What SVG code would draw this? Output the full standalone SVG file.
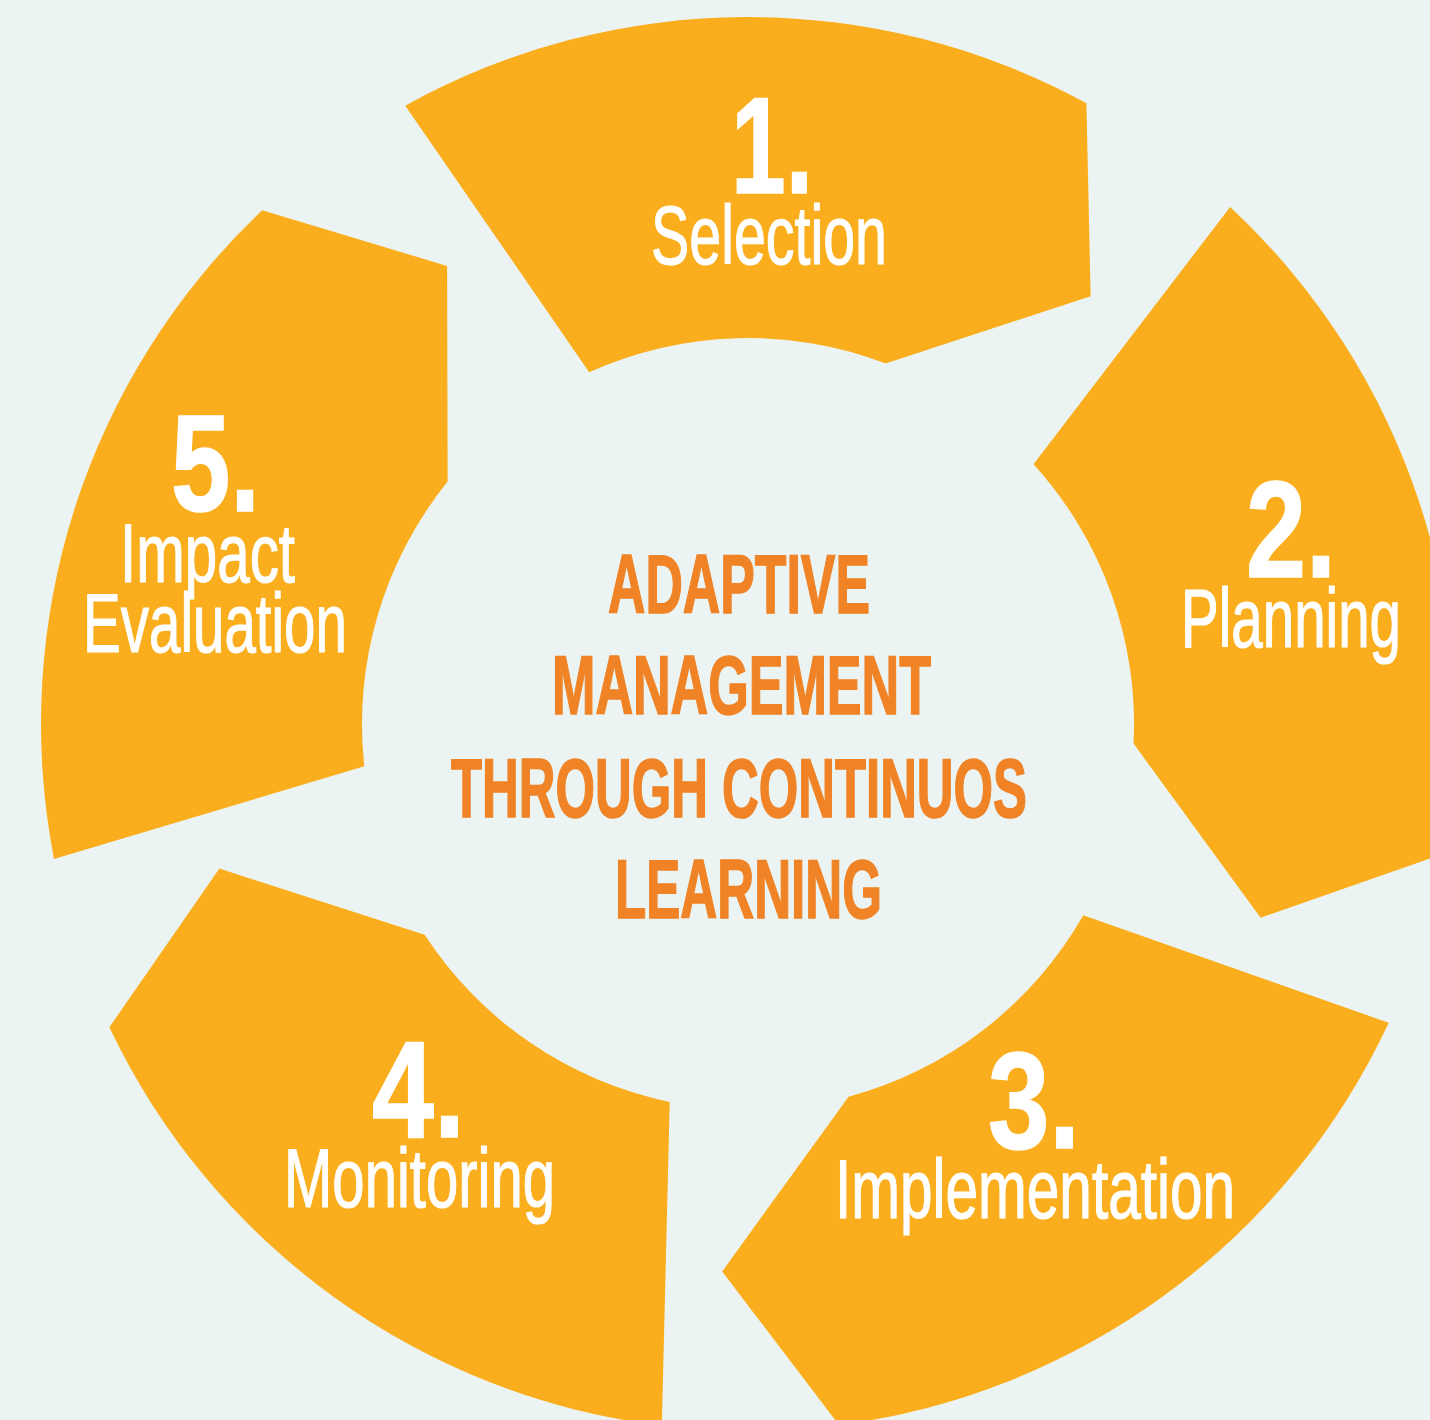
<svg xmlns="http://www.w3.org/2000/svg" width="1430" height="1420" viewBox="0 0 1430 1420">
<style>
.seg{fill:#FAAE1D}
.num{font-family:"Liberation Sans",Arial,sans-serif;font-weight:bold;font-size:138px;fill:#FFFFFF;stroke:#FFFFFF;stroke-width:1.5px}
.lbl{font-family:"Liberation Sans",Arial,sans-serif;font-size:83px;fill:#FFFFFF;stroke:#FFFFFF;stroke-width:1.2px}
.ctr{font-family:"Liberation Sans",Arial,sans-serif;font-weight:bold;font-size:83px;fill:#F08326;stroke:#F08326;stroke-width:1.6px}
</style>
<rect width="1430" height="1420" fill="#EBF4F2"/>
<g id="step1">
<path class="seg" d="M405.24,105.64 A707,707 0 0 1 1086.43,103.27 L1090.63,296.32 L885.70,363.40 A386,386 0 0 0 589.16,372.20 Z"/>
<text class="num" x="731" y="193" textLength="82" lengthAdjust="spacingAndGlyphs">1.</text>
<text class="lbl" x="651" y="264" textLength="236" lengthAdjust="spacingAndGlyphs">Selection</text>
</g>
<g id="step2">
<path class="seg" d="M1230.17,206.94 A707,707 0 0 1 1442.94,854.05 L1260.62,917.70 L1133.51,743.53 A386,386 0 0 0 1033.50,464.22 Z"/>
<text class="num" x="1246" y="577" textLength="90" lengthAdjust="spacingAndGlyphs">2.</text>
<text class="lbl" x="1181" y="647" textLength="220" lengthAdjust="spacingAndGlyphs">Planning</text>
</g>
<g id="step3">
<path class="seg" d="M1388.76,1022.79 A707,707 0 0 1 839.06,1425.11 L722.19,1271.39 L848.55,1096.67 A386,386 0 0 0 1083.29,915.25 Z"/>
<text class="num" x="988" y="1148" textLength="92" lengthAdjust="spacingAndGlyphs">3.</text>
<text class="lbl" x="835" y="1218" textLength="400" lengthAdjust="spacingAndGlyphs">Implementation</text>
</g>
<g id="step4">
<path class="seg" d="M661.84,1425.73 A707,707 0 0 1 109.34,1027.26 L219.42,868.60 L424.64,934.79 A386,386 0 0 0 669.72,1101.98 Z"/>
<text class="num" x="372" y="1137" textLength="93" lengthAdjust="spacingAndGlyphs">4.</text>
<text class="lbl" x="284" y="1207" textLength="271" lengthAdjust="spacingAndGlyphs">Monitoring</text>
</g>
<g id="step5">
<path class="seg" d="M53.99,858.90 A707,707 0 0 1 262.23,210.31 L447.14,265.98 L447.65,481.57 A386,386 0 0 0 364.33,766.36 Z"/>
<text class="num" x="171" y="511" textLength="89" lengthAdjust="spacingAndGlyphs">5.</text>
<text class="lbl" x="120" y="582" textLength="175" lengthAdjust="spacingAndGlyphs">Impact</text>
<text class="lbl" x="83" y="652" textLength="264" lengthAdjust="spacingAndGlyphs">Evaluation</text>
</g>
<g id="center">
<text class="ctr" x="608" y="613" textLength="262" lengthAdjust="spacingAndGlyphs">ADAPTIVE</text>
<text class="ctr" x="552" y="714" textLength="379" lengthAdjust="spacingAndGlyphs">MANAGEMENT</text>
<text class="ctr" x="451" y="817" textLength="576" lengthAdjust="spacingAndGlyphs">THROUGH CONTINUOS</text>
<text class="ctr" x="615" y="918" textLength="267" lengthAdjust="spacingAndGlyphs">LEARNING</text>
</g>
</svg>
